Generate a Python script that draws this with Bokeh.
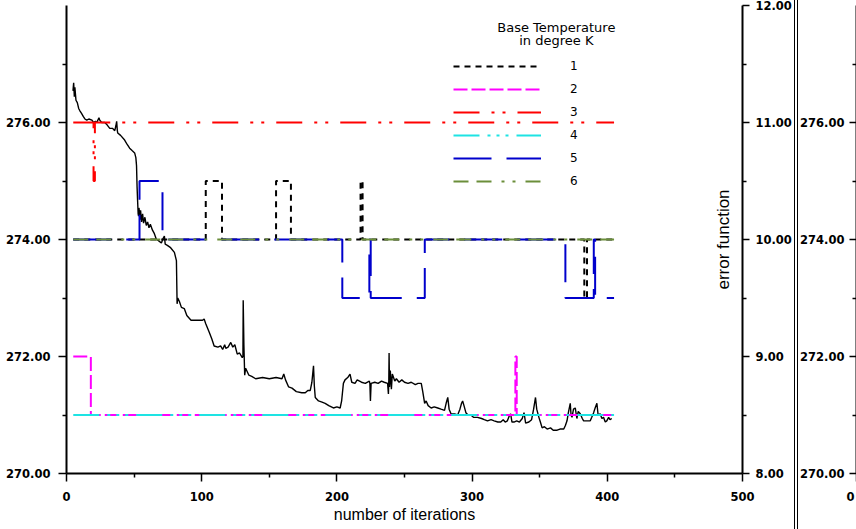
from math import pi
from bokeh.plotting import figure
from bokeh.models import (Range1d, LinearAxis, FixedTicker,
                          NumeralTickFormatter, Label, Div)
from bokeh.layouts import row
from bokeh.embed import file_html
from bokeh.resources import INLINE

# ---------------- data ----------------
series_names = ["1", "2", "3", "4", "5", "6"]

s1_x = [5, 103, 103, 115, 115, 155, 155, 166, 166, 217.5, 217.5, 219, 219, 383, 383, 385, 385, 405]
s1_y = [274, 274, 275, 275, 274, 274, 275, 275, 274, 274, 275, 275, 274, 274, 273, 273, 274, 274]

s2_x = [5, 18, 18, 332, 332, 333, 333, 405]
s2_y = [272, 272, 271, 271, 272, 272, 271, 271]

s3_x = [5, 20, 20, 21, 21, 405]
s3_y = [276, 276, 275, 275, 276, 276]

s4_x = [5, 405]
s4_y = [271, 271]

s5_x = [5, 54, 54, 71, 71, 204, 204, 224, 224, 225, 225, 265, 265, 369, 369, 390, 390, 391, 391, 405]
s5_y = [274, 274, 275, 275, 274, 274, 273, 273, 274, 274, 273, 273, 274, 274, 273, 273, 274, 274, 273, 273]

s6_x = [5, 405]
s6_y = [274, 274]

err_x = [4.8, 5.3, 5.8, 6.2, 7.0, 8.0, 9.0, 9.9, 11, 12.5, 13.6, 15, 16.5, 18.8, 20, 21.5, 22.4,
         24.0, 24.6, 26, 28.3, 30, 32.0, 34, 35.7, 36.5, 37.1, 37.6, 37.9, 40, 43.0, 45, 46.7,
         48.5, 50.4, 51.3, 51.8, 52.2, 52.6, 53.0, 53.3, 53.6, 54.0, 54.4, 54.8, 55.5, 56.3, 57,
         58, 59, 60.0, 61, 62, 63.6, 65, 66.5, 68, 70.2, 71.5, 72.4, 73, 74.6, 77, 79.8, 81.3,
         81.6, 81.8, 82.3, 83.5, 85, 87.1, 89, 92.1, 96, 100.6, 101.8, 103, 105.5, 107.5, 109.2,
         112, 114, 115.5, 117, 117.8, 119.5, 121.5, 123, 124.5, 126.3, 128, 130.0, 130.5, 130.7,
         131.2, 131.8, 132.5, 134.9, 137, 139.9, 145, 150, 155, 159.4, 160.7, 162, 164.3, 166.8,
         170, 174, 176.6, 178.5, 180.3, 181.5, 182.7, 183.3, 184.0, 186.4, 189, 191.3, 194,
         197.4, 200, 202.4, 203.5, 204.8, 206, 208, 209.7, 211, 213.4, 215, 218.2, 221, 224.0,
         224.4, 224.8, 225.3, 228, 230.5, 233, 235, 237.5, 238.1, 238.4, 238.6, 238.9, 239.5,
         240.3, 241, 242.8, 244, 246, 248, 250, 252.6, 255.0, 258, 260, 262.4, 263.5, 264.9,
         266, 267.5, 269.7, 272, 274.6, 277, 279.6, 280.8, 282.0, 283, 284.4, 287, 289.3, 291,
         292.2, 293.0, 294, 295.4, 297, 299.1, 301, 304.0, 307, 309, 311.4, 314, 316.3, 319,
         321.2, 323, 324.5, 326.1, 327.4, 328.5, 329.5, 331.0, 333, 335, 337.1, 338.4, 339.6,
         342, 344, 345.5, 346.9, 347.8, 349.4, 350.5, 351.8, 353.5, 355.5, 358, 360, 362.9, 365,
         367.8, 369, 370.2, 371.2, 372.6, 373.2, 373.9, 375, 376.3, 377.5, 378.5, 380.0, 381.5,
         382.5, 385, 387.4, 388.5, 389.9, 391, 392.3, 393.2, 394.7, 396, 397.2, 398.5, 399.6,
         401, 402, 403.3]
err_y = [11.27, 11.34, 11.22, 11.30, 11.19, 11.17, 11.12, 11.10, 11.08, 11.05, 11.03, 11.02, 11.03,
         11.02, 11.00, 11.01, 11.00, 11.04, 11.02, 11.00, 11.00, 10.98, 10.95, 10.95, 10.93, 10.97,
         11.01, 10.93, 10.91, 10.89, 10.85, 10.81, 10.78, 10.76, 10.74, 10.70, 10.63, 10.45, 10.33,
         10.22, 10.20, 10.27, 10.23, 10.17, 10.25, 10.15, 10.22, 10.14, 10.19, 10.12, 10.15, 10.10,
         10.13, 10.08, 10.05, 10.00, 9.99, 9.97, 10.01, 10.03, 9.96, 9.95, 9.93, 9.89, 9.82,
         9.60, 9.45, 9.50, 9.47, 9.42, 9.41, 9.35, 9.31, 9.31, 9.31, 9.32, 9.28, 9.21, 9.15, 9.09,
         9.08, 9.09, 9.06, 9.10, 9.07, 9.08, 9.12, 9.08, 9.10, 9.02, 9.03, 8.99, 9.00, 9.48,
         9.10, 8.84, 8.90, 8.84, 8.83, 8.81, 8.82, 8.81, 8.82, 8.81, 8.85, 8.80, 8.74, 8.73,
         8.70, 8.69, 8.69, 8.71, 8.71, 8.78, 8.92, 8.75, 8.65, 8.62, 8.61, 8.60, 8.58,
         8.56, 8.57, 8.56, 8.62, 8.77, 8.80, 8.82, 8.85, 8.78, 8.77, 8.80, 8.78, 8.77, 8.79,
         8.77, 8.62, 8.77, 8.78, 8.77, 8.79, 8.78, 8.77, 8.68, 8.80, 9.03, 8.74, 8.88,
         8.72, 8.85, 8.79, 8.81, 8.78, 8.80, 8.78, 8.77, 8.78, 8.76, 8.77, 8.77, 8.70, 8.60,
         8.62, 8.58, 8.56, 8.57, 8.56, 8.55, 8.54, 8.60, 8.65, 8.55, 8.51, 8.51, 8.50, 8.55,
         8.60, 8.62, 8.58, 8.52, 8.50, 8.50, 8.48, 8.48, 8.47, 8.46, 8.45, 8.46, 8.45, 8.44,
         8.44, 8.46, 8.44, 8.45, 8.49, 8.51, 8.44, 8.44, 8.45, 8.44, 8.47, 8.52, 8.43,
         8.44, 8.46, 8.55, 8.65, 8.55, 8.48, 8.44, 8.39, 8.40, 8.38, 8.39, 8.37, 8.37, 8.38,
         8.38, 8.41, 8.45, 8.52, 8.60, 8.50, 8.48, 8.55, 8.56, 8.47, 8.53, 8.51, 8.47,
         8.45, 8.45, 8.45, 8.48, 8.52, 8.56, 8.60, 8.50, 8.51, 8.47, 8.48, 8.44, 8.45,
         8.48, 8.46, 8.47]

y_ticks_left = [270, 272, 274, 276]
y_minor_left = [271, 273, 275, 277]
x_ticks = [0, 100, 200, 300, 400, 500]
x_minor = [50, 150, 250, 350, 450]
y_ticks_right = [8, 9, 10, 11, 12]
y_minor_right = [8.5, 9.5, 10.5, 11.5]

legend_title = ["Base Temperature", "in degree K"]
x_title = "number of iterations"
err_title = "error function"

# ---------------- styles ----------------
colors = ["#000000", "#FF00FF", "#FF0000", "#1EE3E3", "#0000CC", "#6B8E3A"]
dashes = ["6 5", "14 4", "26 12 3 8 3 12", "26 8 3 6 3 6 3 8", "38 15", "15 8 15 10 3 8 3 10"]

TICK_FONT = "DejaVu Sans"


def style_axis(ax, standoff, tick_out=8, minor_out=4):
    ax.axis_line_width = 2
    ax.axis_line_color = "black"
    ax.major_tick_line_width = 1.5
    ax.minor_tick_line_width = 1.5
    ax.major_tick_line_color = "black"
    ax.minor_tick_line_color = "black"
    ax.major_tick_in = 0
    ax.major_tick_out = tick_out
    ax.minor_tick_in = 0
    ax.minor_tick_out = minor_out
    ax.major_label_text_font = TICK_FONT
    ax.major_label_text_font_style = "bold"
    ax.major_label_text_font_size = "11.5px"
    ax.major_label_text_color = "black"
    ax.major_label_standoff = standoff


# ---------------- main figure ----------------
p = figure(width=794, height=529, output_backend="svg", toolbar_location=None,
           x_range=Range1d(0, 500), y_range=Range1d(270, 278),
           min_border_left=66, min_border_right=49, min_border_top=5, min_border_bottom=56,
           margin=0)
p.extra_y_ranges = {"err": Range1d(8, 12)}
p.grid.visible = False
p.outline_line_color = None
p.background_fill_color = "white"
p.border_fill_color = "white"

xa = p.xaxis[0]
xa.ticker = FixedTicker(ticks=x_ticks, minor_ticks=x_minor)
style_axis(xa, 10)
xa.axis_label = x_title
xa.axis_label_text_font = "Liberation Sans"
xa.axis_label_text_font_style = "normal"
xa.axis_label_text_font_size = "16px"
xa.axis_label_text_color = "black"
xa.axis_label_standoff = 2

ya = p.yaxis[0]
ya.ticker = FixedTicker(ticks=y_ticks_left, minor_ticks=y_minor_left)
ya.formatter = NumeralTickFormatter(format="0.00")
style_axis(ya, 8)

ra = LinearAxis(y_range_name="err",
                ticker=FixedTicker(ticks=y_ticks_right, minor_ticks=y_minor_right),
                formatter=NumeralTickFormatter(format="0.00"))
style_axis(ra, 6, tick_out=7, minor_out=4)
p.add_layout(ra, "right")

xs = [s1_x, s2_x, s3_x, s4_x, s5_x, s6_x]
ys = [s1_y, s2_y, s3_y, s4_y, s5_y, s6_y]

p.line(err_x, err_y, y_range_name="err", line_color="black", line_width=1.4)

for name, sx, sy, c, dd in zip(series_names, xs, ys, colors, dashes):
    p.line(sx, sy, line_color=c, line_width=2, line_dash=dd, legend_label=name)

lg = p.legend[0]
lg.location = (387, 282)
lg.padding = 0
lg.margin = 0
lg.border_line_color = None
lg.background_fill_alpha = 0
lg.glyph_width = 88
lg.glyph_height = 20
lg.label_height = 20
lg.spacing = 3
lg.label_standoff = 29
lg.label_text_font = "DejaVu Sans"
lg.label_text_font_size = "12px"
lg.label_text_color = "black"

p.add_layout(Label(x=362.3, y=277.62, text=legend_title[0], text_align="center",
                   text_baseline="middle", text_font="DejaVu Sans", text_font_size="13px",
                   text_color="black"))
p.add_layout(Label(x=362.3, y=277.40, text=legend_title[1], text_align="center",
                   text_baseline="middle", text_font="DejaVu Sans", text_font_size="13px",
                   text_color="black"))
p.add_layout(Label(x=486, y=274, text=err_title, angle=pi / 2, text_align="center",
                   text_baseline="middle", text_font="Liberation Sans", text_font_size="17px",
                   text_color="black"))

# ---------------- divider (double line) ----------------
divider = Div(width=4, height=529, margin=0,
              text='<div style="width:4px;height:529px;box-sizing:border-box;'
                   'border-left:1px solid #000;border-right:1px solid #000;"></div>')

# ---------------- neighbouring panel (cut off) ----------------
p3 = figure(width=58, height=529, output_backend="svg", toolbar_location=None,
            x_range=Range1d(0, 500), y_range=Range1d(270, 278),
            min_border_left=54, min_border_right=0, min_border_top=5, min_border_bottom=56,
            margin=0)
p3.grid.visible = False
p3.outline_line_color = None
p3.xaxis[0].ticker = FixedTicker(ticks=[0], minor_ticks=[])
style_axis(p3.xaxis[0], 10)
p3.yaxis[0].ticker = FixedTicker(ticks=y_ticks_left, minor_ticks=y_minor_left)
p3.yaxis[0].formatter = NumeralTickFormatter(format="0.00")
style_axis(p3.yaxis[0], 5, tick_out=7, minor_out=4)

layout = row(p, divider, p3, spacing=0, margin=0)
open("out.html", "w").write(file_html(layout, INLINE))
